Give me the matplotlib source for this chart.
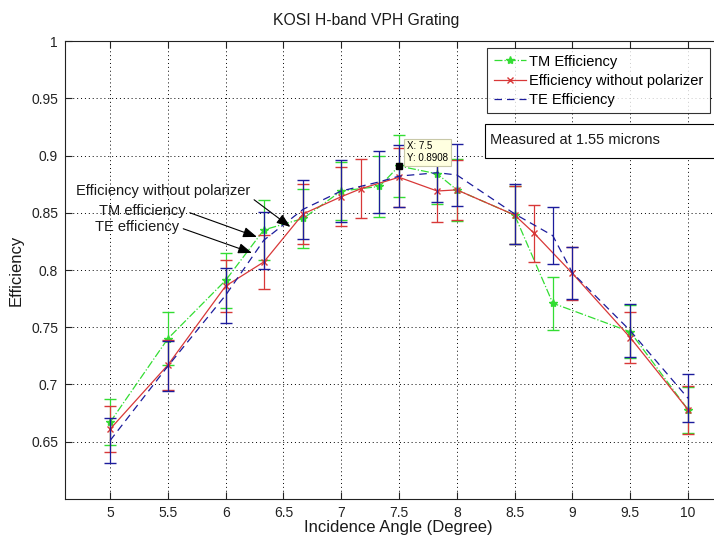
import matplotlib
matplotlib.use('Agg')
from matplotlib import pyplot as plt
from matplotlib.patches import Rectangle
from matplotlib.lines import Line2D

plt.rcParams['font.family'] = ['Liberation Sans', 'DejaVu Sans']

# TM efficiency (green)
tm_x = [5, 5.5, 6, 6.33, 6.67, 7, 7.33, 7.5, 7.83, 8, 8.5, 8.83, 9.5, 10]
tm_y = [0.667, 0.740, 0.791, 0.835, 0.845, 0.869, 0.873, 0.8908, 0.884, 0.870, 0.848, 0.771, 0.746, 0.678]
tm_err = [0.020, 0.023, 0.024, 0.026, 0.026, 0.025, 0.027, 0.027, 0.026, 0.027, 0.025, 0.023, 0.023, 0.020]

# efficiency without polarizer (red)
np_x = [5, 5.5, 6, 6.33, 6.67, 7, 7.17, 7.5, 7.83, 8, 8.5, 8.67, 9, 9.5, 10]
np_y = [0.661, 0.717, 0.786, 0.807, 0.849, 0.864, 0.871, 0.881, 0.869, 0.870, 0.848, 0.832, 0.797, 0.741, 0.678]
np_err = [0.020, 0.022, 0.023, 0.024, 0.026, 0.026, 0.026, 0.026, 0.027, 0.026, 0.025, 0.025, 0.023, 0.022, 0.021]

# TE efficiency (blue)
te_x = [5, 5.5, 6, 6.33, 6.67, 7, 7.33, 7.5, 7.83, 8, 8.5, 8.83, 9, 9.5, 10]
te_y = [0.651, 0.716, 0.778, 0.826, 0.853, 0.869, 0.877, 0.882, 0.885, 0.883, 0.849, 0.830, 0.7975, 0.747, 0.688]
te_err = [0.020, 0.022, 0.024, 0.025, 0.026, 0.027, 0.027, 0.027, 0.026, 0.027, 0.026, 0.025, 0.023, 0.023, 0.021]

xticks = [5, 5.5, 6, 6.5, 7, 7.5, 8, 8.5, 9, 9.5, 10]
yticks = [0.65, 0.7, 0.75, 0.8, 0.85, 0.9, 0.95, 1]

green = '#33dd33'
red = '#d83838'
blue = '#1c1c9c'
txt = '#1a1a1a'

fig = plt.figure(figsize=(7.14, 5.37), dpi=100)
ax = fig.add_axes([0.091, 0.0708, 0.939, 0.8528])

ax.errorbar(tm_x, tm_y, yerr=tm_err, color=green, linestyle='-.', marker='*', markersize=6,
            lw=0.9, elinewidth=0.9, capsize=4.5, zorder=3)
ax.errorbar(np_x, np_y, yerr=np_err, color=red, linestyle='-', marker='x', markersize=4,
            lw=0.9, elinewidth=0.9, capsize=4.5, zorder=4)
ax.errorbar(te_x, te_y, yerr=te_err, color=blue, linestyle=(0, (6, 4)), marker='None',
            lw=0.9, elinewidth=0.9, capsize=4.5, zorder=5)

ax.set_xlim(4.61, 10.41)
ax.set_ylim(0.6, 1.0)
ax.set_xticks(xticks)
ax.set_xticklabels([f'{t:g}' for t in xticks])
ax.set_yticks(yticks)
ax.set_yticklabels([f'{t:g}' for t in yticks])
ax.tick_params(direction='in', length=5, width=0.8, top=True, right=False,
               labelsize=10, colors='#222222', pad=5)
ax.grid(True, linestyle=(0, (1, 3)), color='black', lw=0.7)
for s in ax.spines.values():
    s.set_linewidth(0.8)
    s.set_color('#222222')

ax.set_xlabel('Incidence Angle (Degree)', fontsize=12, color=txt)
ax.set_ylabel('Efficiency', fontsize=12, color=txt)
ax.xaxis.set_label_coords(0.497, -0.045)
ax.yaxis.set_label_coords(-0.062, 0.5)

fig.text(366 / 714, 1 - 21 / 537, 'KOSI H-band VPH Grating', fontsize=11.3,
         ha='center', va='center', color=txt)

handles = [
    Line2D([], [], color=green, linestyle='-.', marker='*', markersize=6, lw=0.9),
    Line2D([], [], color=red, linestyle='-', marker='x', markersize=4, lw=0.9),
    Line2D([], [], color=blue, linestyle=(0, (6, 4)), lw=0.9),
]
labels = ['TM Efficiency', 'Efficiency without polarizer', 'TE Efficiency']
leg = ax.legend(handles, labels, loc='upper left', bbox_to_anchor=(487 / 714, 1 - 48 / 537),
                bbox_transform=fig.transFigure, fontsize=10.5, frameon=True, fancybox=False,
                borderaxespad=0, handlelength=2.2, handletextpad=0.25, labelspacing=0.35,
                borderpad=0.45)
leg.get_frame().set_edgecolor('black')
leg.get_frame().set_linewidth(0.8)

# "Measured at" box, runs past the right edge
fig.patches.append(Rectangle((485 / 714, 1 - 158 / 537), 0.4, 34 / 537, transform=fig.transFigure,
                             fc='white', ec='black', lw=0.8, zorder=10))
fig.text(490 / 714, 1 - 140 / 537, 'Measured at 1.55 microns', fontsize=10.5,
         ha='left', va='center', color=txt, zorder=11)

# data tip
ax.plot([7.5], [0.8908], marker='s', color='black', markersize=4, zorder=8)
ax.annotate('X: 7.5\nY: 0.8908', xy=(7.5, 0.8908), xytext=(8, 3), textcoords='offset pixels',
            fontsize=7, ha='left', va='bottom', linespacing=1.2, zorder=9,
            bbox=dict(boxstyle='square,pad=0.3', fc='#ffffe0', ec='#c8c8a8', lw=0.8))

# arrows
arr = dict(arrowstyle='-|>,head_length=0.8,head_width=0.3', color='black', lw=0.8,
           shrinkA=1, shrinkB=0)
ax.annotate('Efficiency without polarizer', xy=(6.56, 0.8376), xytext=(4.705, 0.8688),
            fontsize=10.5, ha='left', va='center', color=txt,
            arrowprops=dict(arr, relpos=(1.0, 0.1)), zorder=7)
ax.annotate('TM efficiency', xy=(6.271, 0.8289), xytext=(4.905, 0.8513),
            fontsize=10.5, ha='left', va='center', color=txt,
            arrowprops=dict(arr, relpos=(1.0, 0.5)), zorder=7)
ax.annotate('TE efficiency', xy=(6.228, 0.8149), xytext=(4.87, 0.8373),
            fontsize=10.5, ha='left', va='center', color=txt,
            arrowprops=dict(arr, relpos=(1.0, 0.5)), zorder=7)

fig.savefig('out.png', dpi=100)
